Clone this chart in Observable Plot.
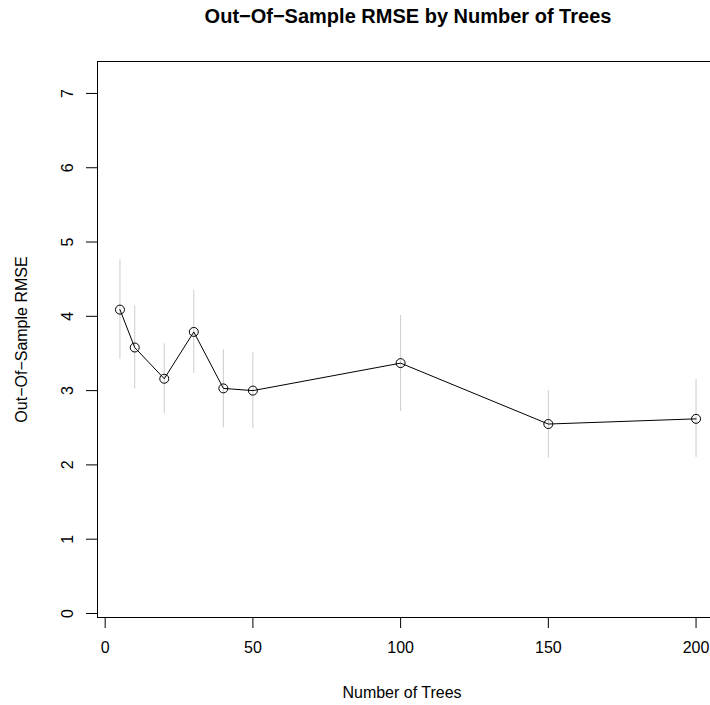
<!DOCTYPE html>
<html>
<head>
<meta charset="utf-8">
<script src="https://cdn.jsdelivr.net/npm/d3@7"></script>
<script src="https://cdn.jsdelivr.net/npm/@observablehq/plot@0.6"></script>
<style>
  html, body { margin: 0; padding: 0; background: #fff; }
  #chart svg { display: block; }
</style>
</head>
<body>
<div id="chart"></div>
<script>
const trees = [5, 10, 20, 30, 40, 50, 100, 150, 200];
const rmse  = [4.09, 3.58, 3.16, 3.79, 3.03, 3.00, 3.37, 2.55, 2.62];
const lower = [3.42, 3.02, 2.69, 3.23, 2.50, 2.49, 2.72, 2.09, 2.10];
const upper = [4.76, 4.14, 3.63, 4.35, 3.55, 3.51, 4.01, 3.00, 3.15];
const xTicks = [0, 50, 100, 150, 200];
const yTicks = [0, 1, 2, 3, 4, 5, 6, 7];
const titleText = "Out\u2212Of\u2212Sample RMSE by Number of Trees";
const xLabel = "Number of Trees";
const yLabel = "Out\u2212Of\u2212Sample RMSE";

const data = trees.map((t, i) => ({trees: t, rmse: rmse[i], lo: lower[i], hi: upper[i]}));

const font = "'Liberation Sans', Arial, Helvetica, sans-serif";

const plot = Plot.plot({
  width: 710,
  height: 705,
  marginLeft: 97,
  marginRight: -8,
  marginTop: 61,
  marginBottom: 88,
  style: {fontFamily: font, background: "#fff", color: "#000"},
  x: {domain: [-2.6, 207.6]},
  y: {domain: [-0.054, 7.43]},
  marks: [
    Plot.ruleX(data, {x: "trees", y1: "lo", y2: "hi", stroke: "#cccccc", strokeWidth: 1}),
    Plot.line(data, {x: "trees", y: "rmse", stroke: "#000", strokeWidth: 1}),
    Plot.dot(data, {x: "trees", y: "rmse", r: 4.5, stroke: "#000", fill: "none", strokeWidth: 1}),
    Plot.frame({stroke: "#000", strokeWidth: 1}),
    Plot.axisX({ticks: xTicks, tickSize: 11, tickPadding: 13, fontSize: 16, label: null, tickFormat: d => String(d)}),
    Plot.axisY({ticks: yTicks, tickSize: 11, tickFormat: () => "", label: null}),
    Plot.text(yTicks, {y: d => d, text: d => String(d), frameAnchor: "left", dx: -30, rotate: -90, textAnchor: "middle", lineAnchor: "middle", fontSize: 16, fill: "#000"}),
    Plot.text([xLabel], {frameAnchor: "bottom", dx: -6, dy: 80, textAnchor: "middle", lineAnchor: "bottom", fontSize: 16, fill: "#000"}),
    Plot.text([yLabel], {frameAnchor: "left", dx: -71, rotate: -90, textAnchor: "middle", lineAnchor: "bottom", fontSize: 16, fill: "#000"}),
    Plot.text([titleText], {frameAnchor: "top", dy: -38.5, textAnchor: "middle", lineAnchor: "bottom", fontSize: 20, fontWeight: "bold", fill: "#000"})
  ]
});

document.getElementById("chart").appendChild(plot);
</script>
</body>
</html>
